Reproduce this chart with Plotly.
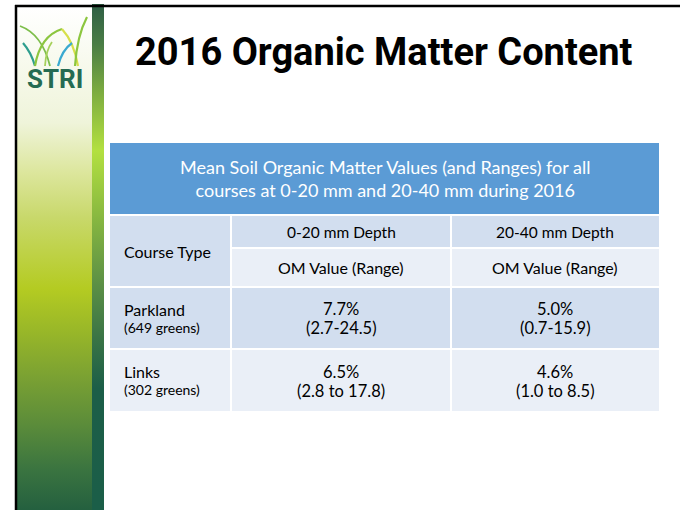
import plotly.graph_objects as go

# ---------------- data ----------------
title_text = "2016 Organic Matter Content"
table_caption = ["Mean Soil Organic Matter Values (and Ranges) for all",
                 "courses at 0-20 mm and 20-40 mm during 2016"]
row_header = "Course Type"
depth_labels = ["0-20 mm Depth", "20-40 mm Depth"]
value_label = "OM Value (Range)"
course_types = ["Parkland", "Links"]
greens = ["(649 greens)", "(302 greens)"]
om_0_20 = [7.7, 6.5]
range_0_20 = ["(2.7-24.5)", "(2.8 to 17.8)"]
om_20_40 = [5.0, 4.6]
range_20_40 = ["(0.7-15.9)", "(1.0 to 8.5)"]

# ---------------- layout constants ----------------
W, H = 680, 510
TX0, TX1 = 110, 659
COLS = [110, 231, 451, 659]
HDR = (143, 214)
ROWA = (216, 247)
ROWB = (249, 286)
BODY = [(288, 348), (350, 411)]
BLUE = "#5B9BD5"
BAND = "#D2DEEF"
LIGHT = "#EAEFF7"
TFONT = "Lato"

fig = go.Figure()

# left decorative gradient panel
fig.add_trace(go.Scatter(
    x=[17, 92, 92, 17, 17], y=[7, 7, 510, 510, 7], mode="none", fill="toself",
    fillgradient=dict(type="vertical", start=7, stop=510, colorscale=[
        [0.0, "#FFFFFF"], [0.23, "#EFF4DA"], [0.33, "#DCE69C"], [0.42, "#C8D86A"],
        [0.56, "#B4CB22"], [0.64, "#9AB828"], [0.74, "#79A033"], [0.83, "#5B8C3A"],
        [0.92, "#3A7440"], [1.0, "#24603F"]]),
    hoverinfo="skip", showlegend=False))
# dark strip
fig.add_trace(go.Scatter(
    x=[92, 104, 104, 92, 92], y=[4, 4, 510, 510, 4], mode="none", fill="toself",
    fillgradient=dict(type="vertical", start=4, stop=510, colorscale=[
        [0.0, "#2E5E45"], [0.08, "#4A7D45"], [0.17, "#7AAA40"], [0.29, "#B3E040"],
        [0.42, "#88B840"], [0.56, "#5A8E45"], [0.66, "#3A7445"], [0.76, "#1C5E48"],
        [1.0, "#1B5E48"]]),
    hoverinfo="skip", showlegend=False))

shapes = []
# slide border lines
shapes.append(dict(type="line", x0=15, x1=W, y0=6, y1=6, line=dict(color="black", width=2.5)))
shapes.append(dict(type="line", x0=16, x1=16, y0=5, y1=H, line=dict(color="black", width=2.5)))

# logo grass blades
blades = [
    ("M 20 26 Q 42 34 50 66", "#7DBE4A", 1.8),
    ("M 23 43 Q 31 52 35 66", "#2E9E8E", 2.2),
    ("M 35 66 Q 40 36 62 29", "#8CC63F", 2.2),
    ("M 62 29 Q 74 42 78 66", "#D6E04A", 2.2),
    ("M 58 66 Q 62 50 72 43", "#3AAAD0", 2.2),
    ("M 75 66 Q 77 36 87 17", "#8CC63F", 2.2),
    ("M 45 66 Q 46 50 52 42", "#A6D05A", 1.8),
]
for p, c, w in blades:
    shapes.append(dict(type="path", path=p, line=dict(color=c, width=w)))

# table cells
def rect(x0, x1, y0, y1, color):
    shapes.append(dict(type="rect", x0=x0, x1=x1, y0=y0, y1=y1,
                       fillcolor=color, line=dict(width=0), layer="above"))

rect(TX0, TX1, HDR[0], HDR[1], BLUE)
rect(COLS[0], COLS[1] - 1, ROWA[0], ROWB[1], BAND)
for j in range(2):
    x0 = COLS[j + 1] + 1
    x1 = COLS[j + 2] if j == 1 else COLS[j + 2] - 1
    rect(x0, x1, ROWA[0], ROWA[1], BAND)
    rect(x0, x1, ROWB[0], ROWB[1], LIGHT)
for i, (y0, y1) in enumerate(BODY):
    col = BAND if i == 0 else LIGHT
    for j in range(3):
        x0 = COLS[j] + (1 if j > 0 else 0)
        x1 = COLS[j + 1] - (1 if j < 2 else 0)
        rect(x0, x1, y0, y1, col)

ann = []
def text(x, y, s, size, color="black", xanchor="center", family=TFONT):
    ann.append(dict(x=x, y=y, text=s, showarrow=False, xanchor=xanchor, yanchor="middle",
                    font=dict(family=family, size=size, color=color)))

# logo text
text(55, 79, "<b>STRI</b>", 26, color="#256B52", family="Roboto")
# title
text(384, 52, "<b>" + title_text + "</b>", 38, family="Roboto")
# caption
text((TX0 + TX1) / 2, 178.5, "<br>".join(table_caption), 18, color="white")
# header cells
text(COLS[0] + 12, (ROWA[0] + ROWB[1]) / 2, row_header, 16, xanchor="left")
for j in range(2):
    cx = (COLS[j + 1] + COLS[j + 2]) / 2
    text(cx, (ROWA[0] + ROWA[1]) / 2, depth_labels[j], 15.5)
    text(cx, (ROWB[0] + ROWB[1]) / 2, value_label, 16)
# body cells
c1 = (COLS[1] + COLS[2]) / 2
c2 = (COLS[2] + COLS[3]) / 2
for i, (y0, y1) in enumerate(BODY):
    ym = (y0 + y1) / 2
    text(COLS[0] + 12, ym - 9, course_types[i], 16, xanchor="left")
    text(COLS[0] + 12, ym + 9, greens[i], 14, xanchor="left")
    text(c1, ym - 9, f"{om_0_20[i]:.1f}%", 16.5)
    text(c1, ym + 10, range_0_20[i], 16.5)
    text(c2, ym - 9, f"{om_20_40[i]:.1f}%", 16.5)
    text(c2, ym + 10, range_20_40[i], 16.5)

fig.update_layout(
    width=W, height=H, margin=dict(l=0, r=0, t=0, b=0),
    paper_bgcolor="white", plot_bgcolor="white",
    xaxis=dict(range=[0, W], visible=False, fixedrange=True),
    yaxis=dict(range=[H, 0], visible=False, fixedrange=True),
    shapes=shapes, annotations=ann, showlegend=False,
)
fig.write_html("out.html", config={"displayModeBar": False},
               post_script="document.body.style.margin='0px';")
